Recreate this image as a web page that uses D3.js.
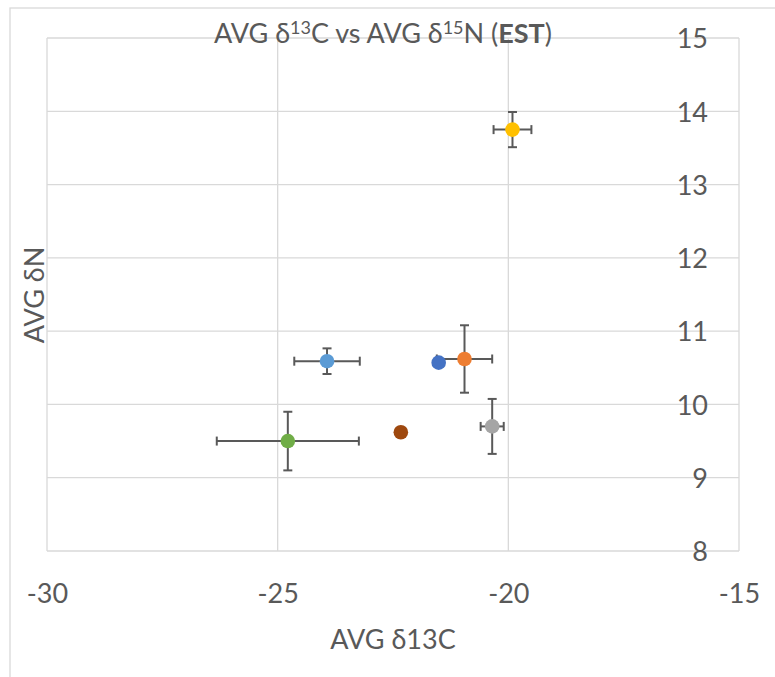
<!DOCTYPE html>
<html>
<head>
<meta charset="utf-8">
<script src="https://cdn.jsdelivr.net/npm/d3@7"></script>
<style>
  html, body { margin: 0; padding: 0; background: #fff; }
  svg { display: block; }
  text { font-family: Lato, "Open Sans", sans-serif; fill: #595959; }
</style>
</head>
<body>
<svg id="chart" width="775" height="677"></svg>
<script>
// ---- Data ----
const seriesNames = ["S1", "S2", "S3", "S4", "S5", "S6", "S7"];
const colors = ["#FFC000", "#5B9BD5", "#ED7D31", "#4472C4", "#A5A5A5", "#9E480E", "#70AD47"];
const xValues = [-19.91, -23.93, -20.95, -21.51, -20.35, -22.33, -24.78];
const yValues = [13.75, 10.59, 10.62, 10.57, 9.70, 9.62, 9.50];
const xErrors = [0.41, 0.71, 0.60, 0, 0.25, 0, 1.54];
const yErrors = [0.24, 0.175, 0.46, 0, 0.375, 0, 0.40];
const xTicks = [-30, -25, -20, -15];
const yTicks = [8, 9, 10, 11, 12, 13, 14, 15];

const svg = d3.select("#chart");
const FS = 27;

// outer chart border
svg.append("rect").attr("x", 10).attr("y", 8).attr("width", 800).attr("height", 700)
  .attr("fill", "none").attr("stroke", "#D9D9D9").attr("stroke-width", 1.3);

const plot = { left: 47, right: 739, top: 38, bottom: 551 };
const x = d3.scaleLinear().domain([-30, -15]).range([plot.left, plot.right]);
const y = d3.scaleLinear().domain([8, 15]).range([plot.bottom, plot.top]);

// gridlines
const grid = svg.append("g").attr("stroke", "#D9D9D9").attr("stroke-width", 1.3);
grid.selectAll("line.v").data(xTicks).join("line")
  .attr("x1", d => x(d)).attr("x2", d => x(d))
  .attr("y1", plot.top).attr("y2", plot.bottom);
grid.selectAll("line.h").data(yTicks).join("line")
  .attr("x1", plot.left).attr("x2", plot.right)
  .attr("y1", d => y(d)).attr("y2", d => y(d));

// axes
const fmt = d => String(d);
const xAxis = d3.axisBottom(x).tickValues(xTicks).tickSize(0).tickPadding(0).tickFormat(fmt);
const gx = svg.append("g").attr("transform", `translate(0,${plot.bottom + 52})`).call(xAxis);
gx.select(".domain").remove();
gx.selectAll("text").attr("font-size", FS).attr("dy", 0).attr("y", 0)
  .style("font-family", "Lato, sans-serif").attr("fill", "#595959");

const yAxis = d3.axisLeft(y).tickValues(yTicks).tickSize(0).tickPadding(0).tickFormat(fmt);
const gy = svg.append("g").attr("transform", `translate(708,0)`).call(yAxis);
gy.select(".domain").remove();
gy.selectAll("text").attr("font-size", FS).attr("x", 0).attr("dy", "0.36em")
  .style("font-family", "Lato, sans-serif").attr("fill", "#595959");

// error bars
const pts = xValues.map((v, i) => ({ x: v, y: yValues[i], ex: xErrors[i], ey: yErrors[i], c: colors[i] }));
const eb = svg.append("g").attr("stroke", "#595959").attr("stroke-width", 2).attr("fill", "none");
const cap = 4.5;
pts.forEach(p => {
  if (p.ex > 0) {
    eb.append("line").attr("x1", x(p.x - p.ex)).attr("x2", x(p.x + p.ex)).attr("y1", y(p.y)).attr("y2", y(p.y));
    eb.append("line").attr("x1", x(p.x - p.ex)).attr("x2", x(p.x - p.ex)).attr("y1", y(p.y) - cap).attr("y2", y(p.y) + cap);
    eb.append("line").attr("x1", x(p.x + p.ex)).attr("x2", x(p.x + p.ex)).attr("y1", y(p.y) - cap).attr("y2", y(p.y) + cap);
  }
  if (p.ey > 0) {
    eb.append("line").attr("x1", x(p.x)).attr("x2", x(p.x)).attr("y1", y(p.y - p.ey)).attr("y2", y(p.y + p.ey));
    eb.append("line").attr("x1", x(p.x) - cap).attr("x2", x(p.x) + cap).attr("y1", y(p.y - p.ey)).attr("y2", y(p.y - p.ey));
    eb.append("line").attr("x1", x(p.x) - cap).attr("x2", x(p.x) + cap).attr("y1", y(p.y + p.ey)).attr("y2", y(p.y + p.ey));
  }
});

// points
svg.append("g").selectAll("circle").data(pts).join("circle")
  .attr("cx", d => x(d.x)).attr("cy", d => y(d.y)).attr("r", 7.3)
  .attr("fill", d => d.c);

// title
const title = svg.append("text").attr("x", 383).attr("y", 43).attr("text-anchor", "middle").attr("font-size", FS);
title.append("tspan").text("AVG δ");
title.append("tspan").text("13").attr("font-size", 18).attr("dy", -9);
title.append("tspan").text("C vs AVG δ").attr("dy", 9);
title.append("tspan").text("15").attr("font-size", 18).attr("dy", -9);
title.append("tspan").text("N (").attr("dy", 9);
title.append("tspan").text("EST").attr("font-weight", "bold");
title.append("tspan").text(")");

// axis titles
svg.append("text").attr("x", 393).attr("y", 649).attr("text-anchor", "middle").attr("font-size", FS).text("AVG δ13C");
svg.append("text").attr("transform", "translate(44,295) rotate(-90)").attr("text-anchor", "middle").attr("font-size", FS).text("AVG δN");
</script>
</body>
</html>
